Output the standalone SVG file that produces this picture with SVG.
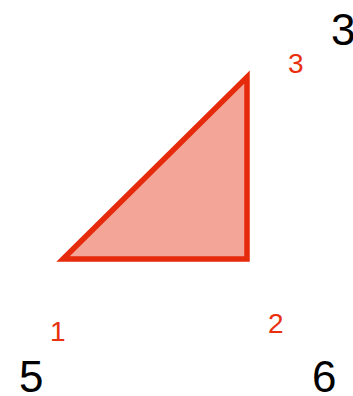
<svg xmlns="http://www.w3.org/2000/svg" width="353" height="396" viewBox="0 0 353 396">
<style>
.big{font-family:"Liberation Sans",Arial,sans-serif;font-size:44px;fill:#000}
.lbl{font-family:"Liberation Sans",Arial,sans-serif;font-size:28px;fill:#E8300E}
</style>
<rect width="353" height="396" fill="#fff"/>
<g id="triangle">
<polygon points="63,259 247,77 247,259" fill="#F3A597" stroke="#E62A0C" stroke-width="5.5" stroke-linejoin="miter"/>
</g>
<g id="vertex-labels">
<text class="lbl" x="288" y="73">3</text>
<text class="lbl" x="50" y="341">1</text>
<text class="lbl" x="268" y="333">2</text>
</g>
<g id="corner-labels">
<text class="big" x="331" y="45">3</text>
<text class="big" x="19" y="392">5</text>
<text class="big" x="312" y="392">6</text>
</g>
<g id="connectors"/>
</svg>
